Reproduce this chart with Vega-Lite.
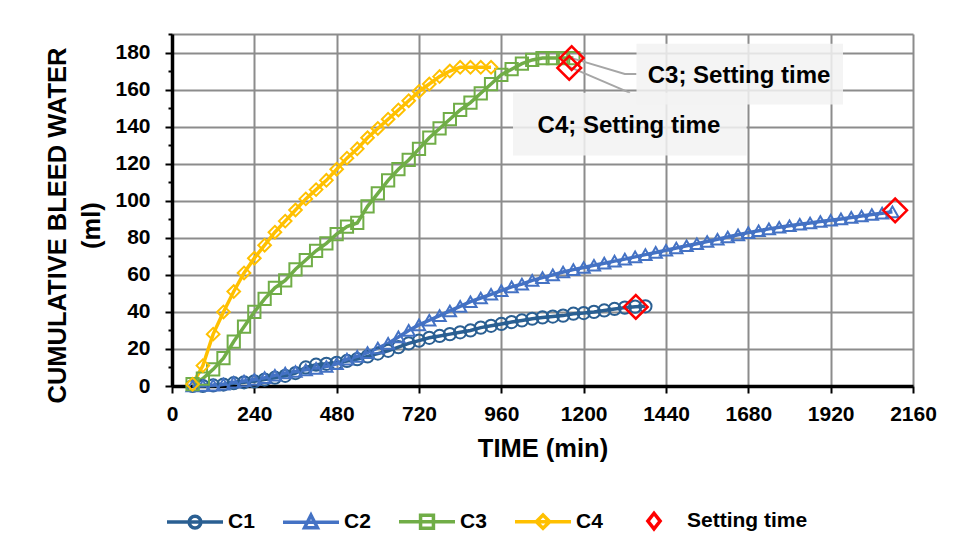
{
  "$schema": "https://vega.github.io/schema/vega-lite/v6.json",
  "width": 741,
  "height": 352,
  "autosize": {"type": "none"},
  "padding": {"left": 172, "top": 34, "right": 43, "bottom": 170},
  "background": "white",
  "config": {
    "font": "Liberation Sans",
    "view": {"stroke": null},
    "axis": {"labelFont": "Liberation Sans", "titleFont": "Liberation Sans", "labelFontWeight": "bold", "titleFontWeight": "bold", "labelColor": "#000000", "titleColor": "#000000"}
  },
  "datasets": {
    "curves": [
      {"s":"C1","t":60,"v":0},{"s":"C1","t":90,"v":0},{"s":"C1","t":120,"v":0.3},{"s":"C1","t":150,"v":0.8},{"s":"C1","t":180,"v":1.5},{"s":"C1","t":210,"v":2},{"s":"C1","t":240,"v":2.5},{"s":"C1","t":270,"v":3.5},{"s":"C1","t":300,"v":4.5},{"s":"C1","t":330,"v":5.5},{"s":"C1","t":360,"v":7},{"s":"C1","t":390,"v":10},{"s":"C1","t":420,"v":11.5},{"s":"C1","t":450,"v":12},{"s":"C1","t":480,"v":12.5},{"s":"C1","t":510,"v":13.5},{"s":"C1","t":540,"v":14.5},{"s":"C1","t":570,"v":16},{"s":"C1","t":600,"v":17.5},{"s":"C1","t":630,"v":19},{"s":"C1","t":660,"v":21},{"s":"C1","t":690,"v":23},{"s":"C1","t":720,"v":24.5},{"s":"C1","t":750,"v":26},{"s":"C1","t":780,"v":27},{"s":"C1","t":810,"v":28},{"s":"C1","t":840,"v":29},{"s":"C1","t":870,"v":30},{"s":"C1","t":900,"v":31.5},{"s":"C1","t":930,"v":32.5},{"s":"C1","t":960,"v":33.5},{"s":"C1","t":990,"v":34.5},{"s":"C1","t":1020,"v":35.4},{"s":"C1","t":1050,"v":36.3},{"s":"C1","t":1080,"v":37},{"s":"C1","t":1110,"v":37.5},{"s":"C1","t":1140,"v":38},{"s":"C1","t":1170,"v":39},{"s":"C1","t":1200,"v":39.4},{"s":"C1","t":1230,"v":40},{"s":"C1","t":1260,"v":40.8},{"s":"C1","t":1290,"v":41.6},{"s":"C1","t":1320,"v":42.3},{"s":"C1","t":1350,"v":42.8},{"s":"C1","t":1380,"v":43},
      {"s":"C2","t":60,"v":0},{"s":"C2","t":90,"v":0.3},{"s":"C2","t":120,"v":0.5},{"s":"C2","t":150,"v":1},{"s":"C2","t":180,"v":2},{"s":"C2","t":210,"v":2.7},{"s":"C2","t":240,"v":3.5},{"s":"C2","t":270,"v":4.5},{"s":"C2","t":300,"v":5.8},{"s":"C2","t":330,"v":7},{"s":"C2","t":360,"v":7.8},{"s":"C2","t":390,"v":8.7},{"s":"C2","t":420,"v":9.5},{"s":"C2","t":450,"v":10.5},{"s":"C2","t":480,"v":12},{"s":"C2","t":510,"v":14.5},{"s":"C2","t":540,"v":16},{"s":"C2","t":570,"v":18},{"s":"C2","t":600,"v":20.5},{"s":"C2","t":630,"v":23},{"s":"C2","t":660,"v":26.5},{"s":"C2","t":690,"v":30},{"s":"C2","t":720,"v":33},{"s":"C2","t":750,"v":35.5},{"s":"C2","t":780,"v":38},{"s":"C2","t":810,"v":40.5},{"s":"C2","t":840,"v":43},{"s":"C2","t":870,"v":45.5},{"s":"C2","t":900,"v":47.5},{"s":"C2","t":930,"v":49.5},{"s":"C2","t":960,"v":51.5},{"s":"C2","t":990,"v":53.5},{"s":"C2","t":1020,"v":55},{"s":"C2","t":1050,"v":57},{"s":"C2","t":1080,"v":58.5},{"s":"C2","t":1110,"v":60},{"s":"C2","t":1140,"v":61.5},{"s":"C2","t":1170,"v":62.8},{"s":"C2","t":1200,"v":64},{"s":"C2","t":1230,"v":65.2},{"s":"C2","t":1260,"v":66.3},{"s":"C2","t":1290,"v":67.4},{"s":"C2","t":1320,"v":68.5},{"s":"C2","t":1350,"v":69.7},{"s":"C2","t":1380,"v":70.9},{"s":"C2","t":1410,"v":72.1},{"s":"C2","t":1440,"v":73.3},{"s":"C2","t":1470,"v":74.5},{"s":"C2","t":1500,"v":75.7},{"s":"C2","t":1530,"v":76.8},{"s":"C2","t":1560,"v":78},{"s":"C2","t":1590,"v":79.2},{"s":"C2","t":1620,"v":80.4},{"s":"C2","t":1650,"v":81.6},{"s":"C2","t":1680,"v":82.8},{"s":"C2","t":1710,"v":83.8},{"s":"C2","t":1740,"v":84.8},{"s":"C2","t":1770,"v":85.7},{"s":"C2","t":1800,"v":86.5},{"s":"C2","t":1830,"v":87.3},{"s":"C2","t":1860,"v":88},{"s":"C2","t":1890,"v":88.8},{"s":"C2","t":1920,"v":89.5},{"s":"C2","t":1950,"v":90.2},{"s":"C2","t":1980,"v":91},{"s":"C2","t":2010,"v":91.8},{"s":"C2","t":2040,"v":92.6},{"s":"C2","t":2070,"v":93.3},{"s":"C2","t":2100,"v":94},
      {"s":"C3","t":60,"v":1},{"s":"C3","t":90,"v":4},{"s":"C3","t":120,"v":9},{"s":"C3","t":150,"v":15},{"s":"C3","t":180,"v":24},{"s":"C3","t":210,"v":32},{"s":"C3","t":240,"v":40},{"s":"C3","t":270,"v":47},{"s":"C3","t":300,"v":53},{"s":"C3","t":330,"v":57},{"s":"C3","t":360,"v":63},{"s":"C3","t":390,"v":68},{"s":"C3","t":420,"v":73},{"s":"C3","t":450,"v":77},{"s":"C3","t":480,"v":82},{"s":"C3","t":510,"v":86},{"s":"C3","t":540,"v":88},{"s":"C3","t":570,"v":97},{"s":"C3","t":600,"v":104},{"s":"C3","t":630,"v":111},{"s":"C3","t":660,"v":117},{"s":"C3","t":690,"v":122},{"s":"C3","t":720,"v":128},{"s":"C3","t":750,"v":134},{"s":"C3","t":780,"v":139},{"s":"C3","t":810,"v":144},{"s":"C3","t":840,"v":149},{"s":"C3","t":870,"v":153},{"s":"C3","t":900,"v":158},{"s":"C3","t":930,"v":163},{"s":"C3","t":960,"v":168},{"s":"C3","t":990,"v":171},{"s":"C3","t":1020,"v":174},{"s":"C3","t":1050,"v":176},{"s":"C3","t":1080,"v":177},{"s":"C3","t":1110,"v":177},{"s":"C3","t":1140,"v":177},{"s":"C3","t":1170,"v":177},
      {"s":"C4","t":60,"v":1},{"s":"C4","t":90,"v":11},{"s":"C4","t":120,"v":28},{"s":"C4","t":150,"v":40},{"s":"C4","t":180,"v":51},{"s":"C4","t":210,"v":61},{"s":"C4","t":240,"v":69},{"s":"C4","t":270,"v":76},{"s":"C4","t":300,"v":83},{"s":"C4","t":330,"v":89},{"s":"C4","t":360,"v":95},{"s":"C4","t":390,"v":101},{"s":"C4","t":420,"v":106},{"s":"C4","t":450,"v":111},{"s":"C4","t":480,"v":117},{"s":"C4","t":510,"v":123},{"s":"C4","t":540,"v":128},{"s":"C4","t":570,"v":134},{"s":"C4","t":600,"v":139},{"s":"C4","t":630,"v":144},{"s":"C4","t":660,"v":149},{"s":"C4","t":690,"v":154},{"s":"C4","t":720,"v":159},{"s":"C4","t":750,"v":163},{"s":"C4","t":780,"v":167},{"s":"C4","t":810,"v":170},{"s":"C4","t":840,"v":172},{"s":"C4","t":870,"v":172},{"s":"C4","t":900,"v":172},{"s":"C4","t":930,"v":172}
    ],
    "setting": [
      {"s":"Setting time","t":1352,"v":42.7},
      {"s":"Setting time","t":2108,"v":94.8},
      {"s":"Setting time","t":1165,"v":177},
      {"s":"Setting time","t":1158,"v":171.7}
    ],
    "boxes": [
      {"t1":1354,"t2":1956,"v1":151.9,"v2":184.8},
      {"t1":994,"t2":1675,"v1":124.4,"v2":158.3}
    ],
    "leaders": [
      {"id":"C3","o":0,"t":1165,"v":177},{"id":"C3","o":1,"t":1320,"v":168.4},{"id":"C3","o":2,"t":1354,"v":168.4},
      {"id":"C4","o":0,"t":1155,"v":172.5},{"id":"C4","o":1,"t":1335,"v":158.2}
    ],
    "labels": [
      {"t":1653,"v":163.7,"label":"C3; Setting time"},
      {"t":1332,"v":136.8,"label":"C4; Setting time"}
    ]
  },
  "layer": [
    {
      "data": {"name": "curves"},
      "mark": {"type": "line", "strokeWidth": 3.5},
      "encoding": {
        "x": {"field": "t", "type": "quantitative", "scale": {"domain": [0, 2160], "nice": false},
          "axis": {"values": [0,240,480,720,960,1200,1440,1680,1920,2160], "tickCount": 20, "format": "d", "title": "TIME (min)", "titleFontSize": 25.5, "titlePadding": 12, "labelFontSize": 21, "labelPadding": 10, "tickSize": 7, "tickWidth": 2, "tickColor": "#000000", "domainColor": "#000000", "domainWidth": 3.5, "grid": true, "gridColor": "#8c8c8c", "gridWidth": 2, "labelOverlap": false, "labelFlush": false}},
        "y": {"field": "v", "type": "quantitative", "scale": {"domain": [0, 190], "nice": false},
          "axis": {"values": [0,10,20,30,40,50,60,70,80,90,100,110,120,130,140,150,160,170,180,190], "tickCount": 40, "title": ["CUMULATIVE BLEED WATER", "(ml)"], "titleFontSize": 25.5, "titleLineHeight": 34, "titlePadding": 10, "titleY": 191, "labelFontSize": 21, "labelPadding": 15,
            "labelExpr": "datum.value % 20 === 0 && datum.value < 190 ? datum.label : ''",
            "tickSize": {"condition": {"test": "datum.value % 20 === 0", "value": 7}, "value": 4},
            "tickWidth": 2, "tickColor": "#000000", "domainColor": "#000000", "domainWidth": 3.5,
            "grid": true, "gridColor": "#8c8c8c", "gridWidth": 2,
            "gridOpacity": {"condition": {"test": "datum.value % 20 === 0 || datum.value === 190", "value": 1}, "value": 0},
            "labelOverlap": false, "labelFlush": false}},
        "color": {"field": "s", "type": "nominal",
          "scale": {"domain": ["C1","C2","C3","C4","Setting time"], "range": ["#2A5F92","#4472C4","#70AD47","#FFC000","#FF0000"]},
          "legend": {"title": null, "orient": "none", "legendX": -7, "legendY": 457, "direction": "horizontal",
            "labelFontSize": 21, "labelFontWeight": "bold", "labelColor": "#000000", "labelFont": "Liberation Sans",
            "symbolSize": 3136, "symbolStrokeWidth": 3.5, "symbolFillColor": "transparent", "symbolOpacity": 1, "labelOffset": 3, "columnPadding": 21, "padding": 0}
        }
      }
    },
    {
      "data": {"name": "curves"},
      "transform": [{"filter": "datum.t < 0"}],
      "mark": {"type": "point", "filled": false, "strokeWidth": 3.5, "opacity": 1},
      "encoding": {
        "x": {"field": "t", "type": "quantitative"},
        "y": {"field": "v", "type": "quantitative"},
        "shape": {"field": "s", "type": "nominal",
          "scale": {"domain": ["C1","C2","C3","C4","Setting time"], "range": ["M-1,0L1,0M0.21,0A0.21,0.21 0 1,1 -0.21,0A0.21,0.21 0 1,1 0.21,0", "M-1,0L1,0M0,-0.25L0.23,0.2L-0.23,0.2Z", "M-1,0L1,0M-0.23,-0.23L0.23,-0.23L0.23,0.23L-0.23,0.23Z", "M-1,0L1,0M-0.24,0L0,-0.24L0.24,0L0,0.24Z", "M-0.22,0L0,-0.28L0.22,0L0,0.28Z"]},
          "legend": {"title": null, "orient": "none", "legendX": -7, "legendY": 457, "direction": "horizontal",
            "labelFontSize": 21, "labelFontWeight": "bold", "labelColor": "#000000", "labelFont": "Liberation Sans",
            "symbolSize": 3136, "symbolStrokeWidth": 3.5, "symbolFillColor": "transparent", "symbolOpacity": 1, "labelOffset": 3, "columnPadding": 21, "padding": 0}},
        "color": {"field": "s", "type": "nominal"}
      }
    },
    {
      "data": {"name": "curves"},
      "transform": [{"filter": "datum.s === 'C1'"}],
      "mark": {"type": "point", "filled": false, "size": 150, "strokeWidth": 2, "opacity": 1, "shape": "circle", "color": "#2A5F92"},
      "encoding": {"x": {"field": "t", "type": "quantitative"}, "y": {"field": "v", "type": "quantitative"}}
    },
    {
      "data": {"name": "curves"},
      "transform": [{"filter": "datum.s === 'C2'"}],
      "mark": {"type": "point", "filled": false, "size": 150, "strokeWidth": 2, "opacity": 1, "shape": "triangle-up", "color": "#4472C4"},
      "encoding": {"x": {"field": "t", "type": "quantitative"}, "y": {"field": "v", "type": "quantitative"}}
    },
    {
      "data": {"name": "curves"},
      "transform": [{"filter": "datum.s === 'C3'"}],
      "mark": {"type": "point", "filled": false, "size": 150, "strokeWidth": 2, "opacity": 1, "shape": "square", "color": "#70AD47"},
      "encoding": {"x": {"field": "t", "type": "quantitative"}, "y": {"field": "v", "type": "quantitative"}}
    },
    {
      "data": {"name": "curves"},
      "transform": [{"filter": "datum.s === 'C4'"}],
      "mark": {"type": "point", "filled": false, "size": 160, "strokeWidth": 2, "opacity": 1, "shape": "diamond", "color": "#FFC000"},
      "encoding": {"x": {"field": "t", "type": "quantitative"}, "y": {"field": "v", "type": "quantitative"}}
    },
    {
      "data": {"name": "leaders"},
      "mark": {"type": "line", "color": "#a6a6a6", "strokeWidth": 2},
      "encoding": {
        "x": {"field": "t", "type": "quantitative"},
        "y": {"field": "v", "type": "quantitative"},
        "detail": {"field": "id", "type": "nominal"},
        "order": {"field": "o", "type": "quantitative"}
      }
    },
    {
      "data": {"name": "setting"},
      "mark": {"type": "point", "shape": "diamond", "filled": false, "size": 560, "strokeWidth": 2.5, "opacity": 1, "color": "#FF0000"},
      "encoding": {
        "x": {"field": "t", "type": "quantitative"},
        "y": {"field": "v", "type": "quantitative"}
      }
    },
    {
      "data": {"name": "boxes"},
      "mark": {"type": "rect", "fill": "#f2f2f2", "opacity": 0.85},
      "encoding": {
        "x": {"field": "t1", "type": "quantitative"},
        "x2": {"field": "t2"},
        "y": {"field": "v1", "type": "quantitative"},
        "y2": {"field": "v2"}
      }
    },
    {
      "data": {"name": "labels"},
      "mark": {"type": "text", "fontSize": 24, "fontWeight": "bold", "color": "#000000", "align": "center", "baseline": "alphabetic"},
      "encoding": {
        "x": {"field": "t", "type": "quantitative"},
        "y": {"field": "v", "type": "quantitative"},
        "text": {"field": "label"}
      }
    }
  ]
}
